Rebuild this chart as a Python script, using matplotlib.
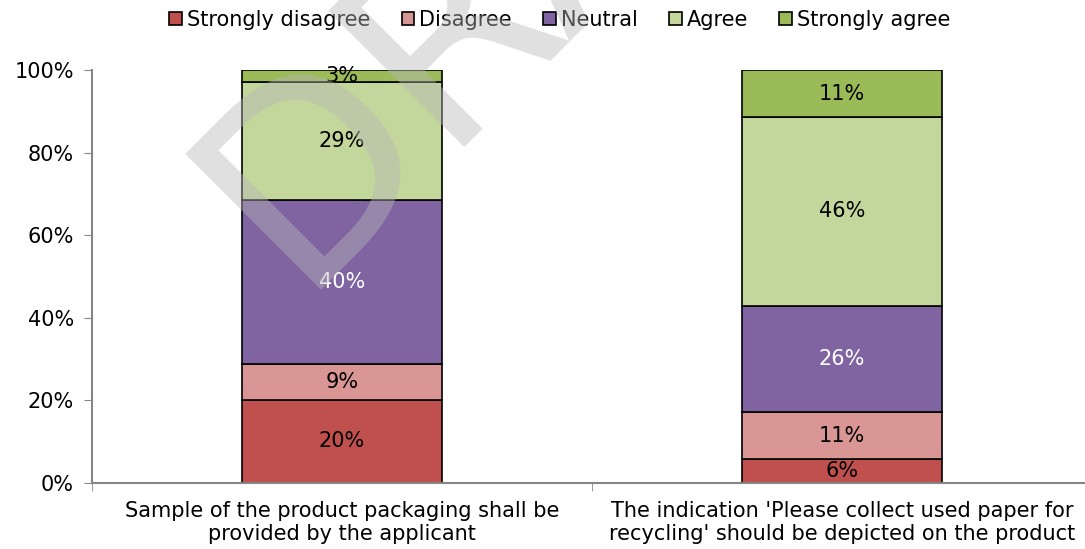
import numpy as np
import matplotlib.pyplot as plt

categories = ["Sample of the product packaging shall be\nprovided by the applicant",
              "The indication 'Please collect used paper for\nrecycling' should be depicted on the product"]
series_names = ["Strongly disagree", "Disagree", "Neutral", "Agree", "Strongly agree"]
strongly_disagree = [20.1, 5.8]
disagree = [8.6, 11.4]
neutral = [39.8, 25.7]
agree = [28.6, 45.7]
strongly_agree = [2.9, 11.4]

colors = ["#C0504D", "#D99694", "#8064A2", "#C3D69B", "#9BBB59"]
label_colors = ["black", "black", "white", "black", "black"]

plt.rcParams['font.family'] = 'DejaVu Sans'
fig = plt.figure(figsize=(10.85, 5.49), dpi=100)
ax = fig.add_axes([92/1085, 66/549, 1000/1085, 413/549])

x = np.arange(len(categories))
bottom = np.zeros(len(categories))
handles = []
for name, vals, c, tc in zip(series_names,
                             [strongly_disagree, disagree, neutral, agree, strongly_agree],
                             colors, label_colors):
    vals = np.array(vals)
    bars = ax.bar(x, vals, 0.4, bottom=bottom, color=c, edgecolor='black',
                  linewidth=1.2, label=name, zorder=2)
    for xi, b, v in zip(x, bottom, vals):
        ax.text(xi, b + v / 2, f"{v:.0f}%", ha='center', va='center',
                fontsize=15, color=tc, zorder=3)
    bottom += vals
    handles.append(bars)

ax.set_xlim(-0.5, 1.5)
ax.set_ylim(0, 100)
ax.set_yticks(np.arange(0, 101, 20))
ax.set_yticklabels([f"{v}%" for v in range(0, 101, 20)], fontsize=15)
ax.set_xticks(x)
ax.set_xticklabels(categories, fontsize=15, linespacing=1.2)
ax.set_xticks([-0.5, 0.5, 1.5], minor=True)
ax.tick_params(axis='x', which='major', length=0, pad=13)
ax.tick_params(axis='x', which='minor', length=6, color='#868686', direction='out')
ax.tick_params(axis='y', length=6, color='#868686', direction='out', pad=7)
for s in ['top', 'right']:
    ax.spines[s].set_visible(False)
for s in ['left', 'bottom']:
    ax.spines[s].set_color('#868686')
    ax.spines[s].set_linewidth(1.5)

fig.legend(handles=handles, loc='center', bbox_to_anchor=(560/1085, 1 - 20/549),
           ncol=5, frameon=False, fontsize=15, handlelength=0.6, handleheight=0.6,
           handletextpad=0.25, columnspacing=1.5)

# diagonal watermark
fig.text(295/1085, 1 - 290/549, "DRAFT", rotation=45, rotation_mode='anchor',
         ha='left', va='baseline', fontsize=190, color='#B7B7B7', alpha=0.43,
         zorder=10)

fig.savefig("out.png", dpi=100)
